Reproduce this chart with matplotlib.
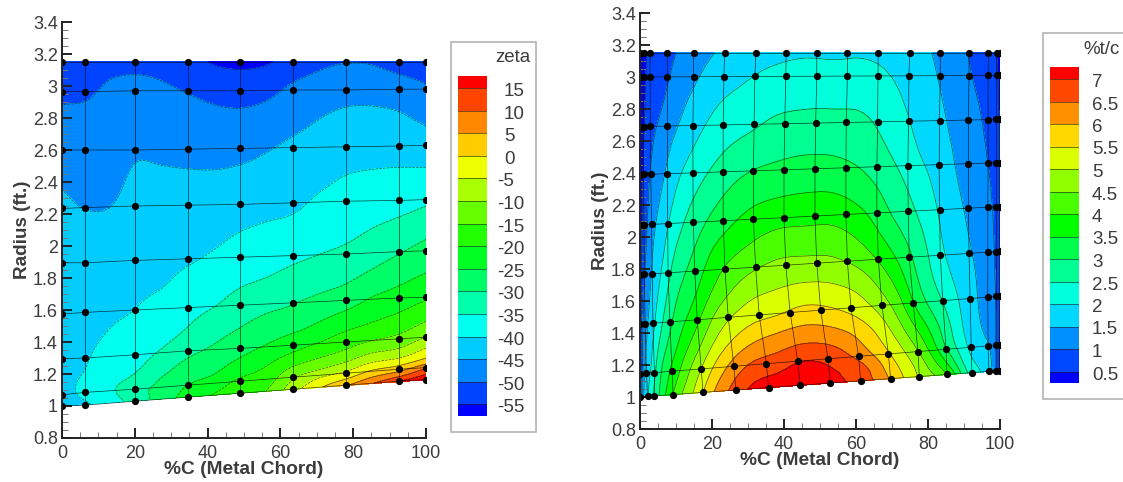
import numpy as np
import matplotlib
matplotlib.use('Agg')
from matplotlib import pyplot as plt
from matplotlib.colors import LinearSegmentedColormap
from matplotlib.patches import Rectangle

plt.rcParams['font.family'] = ['Liberation Sans', 'DejaVu Sans']

W, H = 1123, 482
GREY = '#3c3c3c'

x_ticks = [0, 20, 40, 60, 80, 100]
y_ticks = [0.8, 1, 1.2, 1.4, 1.6, 1.8, 2, 2.2, 2.4, 2.6, 2.8, 3, 3.2, 3.4]
y_tick_labels = ['0.8', '1', '1.2', '1.4', '1.6', '1.8', '2', '2.2', '2.4', '2.6', '2.8', '3', '3.2', '3.4']

# ---- left chart: zeta
zeta_levels = [-55, -50, -45, -40, -35, -30, -25, -20, -15, -10, -5, 0, 5, 10, 15]
zeta_x = [0, 6.3, 13, 20, 27, 34.5, 42, 49, 56, 63.5, 71, 78, 85, 92.7, 100]
zeta_s = [0, .03, .06, .1, .15, .2, .27, .35, .45, .55, .65, .75, .85, .93, 1]
# one list per zeta_x column, bottom edge to top edge
zeta_cols = [
    [-41, -41, -41.5, -41.5, -42, -42, -42.5, -43, -43.5, -44, -45.3, -47, -49.3, -51.5, -53],
    [-40.5, -39.3, -39, -40, -40.7, -41.2, -41.8, -42.5, -43.3, -44.7, -46.3, -47.5, -49.2, -51.2, -53],
    [-37.5, -36, -36, -36.8, -38.4, -39.7, -40.8, -41.8, -43, -44.6, -46.5, -47.5, -48.5, -49.6, -51.5],
    [-33, -32, -34, -35.8, -37.3, -38.5, -40, -41, -42, -43, -44.2, -45.8, -47.7, -49.2, -51],
    [-28, -28.5, -30, -32.5, -35.2, -37, -38.5, -40.6, -42, -43, -44.3, -46, -48, -49.6, -51.5],
    [-23, -24.7, -26.7, -29, -32.2, -34.7, -36.7, -38.8, -41.6, -43, -44.4, -46.5, -48.6, -50.7, -53],
    [-19.5, -22, -24.8, -27, -29.8, -32, -35.2, -37.5, -40.3, -42.3, -44.4, -46.8, -49.4, -52, -55.6],
    [-17, -18.5, -21.3, -24.5, -27.7, -30.1, -33.1, -36.1, -39, -41.6, -44, -46.6, -49.6, -53, -56],
    [-15, -17, -18.9, -21.8, -25.6, -28.2, -31.7, -35.2, -38.1, -41, -43.3, -45.7, -48.9, -52, -55.6],
    [-7, -10, -13.7, -18.7, -23.2, -27.1, -30.5, -33.9, -37.3, -40.4, -42.3, -44.4, -47.2, -49.7, -53],
    [-0.5, -5, -10.9, -16, -21, -24.8, -29, -32.8, -36.3, -38.8, -41.1, -43.3, -45.6, -48.3, -51],
    [4.5, -2.3, -8, -13.8, -18.4, -22.6, -27.6, -31.7, -35.4, -37.7, -40, -42.3, -44.7, -47.3, -50.2],
    [9.5, 2.5, -4, -10.8, -16.8, -20.7, -25.1, -29.8, -34, -36.9, -39.6, -42.1, -44.6, -47.3, -50.4],
    [15, 5.4, -2.3, -9.4, -15.1, -18.9, -23.3, -27.6, -32.3, -36.3, -39.4, -42.3, -45.2, -48.5, -52],
    [19, 11.5, 1.6, -5.1, -11.8, -16.3, -21.3, -25.7, -30.4, -35.2, -39.3, -43.1, -47, -50, -52.5],
]
# measurement points
zeta_node_x = [0, 6.3, 20, 34.5, 49, 63.5, 78, 92.7, 100]
zeta_node_r = [
    [1.00, 1.005, 1.03, 1.055, 1.08, 1.105, 1.13, 1.155, 1.165],
    [1.07, 1.085, 1.105, 1.13, 1.155, 1.18, 1.205, 1.23, 1.24],
    [1.295, 1.30, 1.32, 1.345, 1.36, 1.38, 1.40, 1.42, 1.43],
    [1.575, 1.585, 1.60, 1.615, 1.63, 1.645, 1.66, 1.675, 1.68],
    [1.895, 1.895, 1.91, 1.92, 1.93, 1.94, 1.95, 1.965, 1.97],
    [2.235, 2.24, 2.25, 2.255, 2.26, 2.27, 2.28, 2.285, 2.29],
    [2.60, 2.60, 2.60, 2.605, 2.61, 2.615, 2.62, 2.625, 2.63],
    [2.965, 2.965, 2.97, 2.97, 2.97, 2.975, 2.975, 2.98, 2.98],
    [3.15, 3.15, 3.15, 3.15, 3.15, 3.15, 3.15, 3.15, 3.15],
]

# ---- right chart: %t/c
tc_levels = [0.5, 1, 1.5, 2, 2.5, 3, 3.5, 4, 4.5, 5, 5.5, 6, 6.5, 7]
tc_level_labels = ['0.5', '1', '1.5', '2', '2.5', '3', '3.5', '4', '4.5', '5', '5.5', '6', '6.5', '7']
tc_x = [0, 1, 3, 6, 10, 15, 22, 30, 38, 46, 54, 62, 70, 78, 85, 91, 95, 98, 100]
tc_s = [0, .04, .09, .15, .22, .3, .4, .5, .6, .7, .8, .9, 1]
tc_cols = [
    [.2, .2, .2, .2, .2, .2, .2, .2, .2, .2, .2, .2, .2],
    [1.5, 1.42, 1.3, 1.2, 1.1, .95, .8, .65, .55, .5, .44, .38, .33],
    [2.25, 2.15, 1.97, 1.85, 1.7, 1.55, 1.42, 1.28, 1.13, .97, .85, .75, .65],
    [3.2, 3.1, 2.95, 2.68, 2.42, 2.19, 1.93, 1.72, 1.5, 1.28, 1.07, .88, .7],
    [4.2, 3.95, 3.7, 3.4, 3.15, 2.9, 2.6, 2.28, 2, 1.72, 1.42, 1.2, 1],
    [5.05, 4.85, 4.55, 4.15, 3.75, 3.4, 3.07, 2.75, 2.42, 2.08, 1.78, 1.5, 1.25],
    [6.2, 5.95, 5.6, 5.15, 4.7, 4.2, 3.75, 3.25, 2.85, 2.47, 2.15, 1.85, 1.55],
    [7, 6.75, 6.35, 5.8, 5.25, 4.75, 4.15, 3.65, 3.2, 2.75, 2.35, 2.05, 1.8],
    [7.45, 7, 6.6, 6.1, 5.45, 4.96, 4.4, 3.85, 3.33, 2.9, 2.55, 2.2, 1.9],
    [7.7, 7.3, 6.83, 6.27, 5.66, 5.06, 4.43, 3.89, 3.4, 2.97, 2.6, 2.28, 1.95],
    [7.15, 7, 6.67, 6.15, 5.54, 5, 4.39, 3.88, 3.38, 2.95, 2.6, 2.27, 1.93],
    [6.75, 6.6, 6.13, 5.75, 5.2, 4.72, 4.08, 3.6, 3.15, 2.8, 2.55, 2.25, 1.95],
    [5.9, 5.68, 5.35, 4.95, 4.5, 4, 3.45, 3, 2.72, 2.45, 2.25, 2.05, 1.85],
    [4.9, 4.7, 4.3, 3.8, 3.25, 2.9, 2.67, 2.42, 2.2, 1.96, 1.82, 1.7, 1.6],
    [4.1, 3.5, 2.95, 2.7, 2.42, 2.15, 1.93, 1.82, 1.7, 1.6, 1.5, 1.42, 1.35],
    [2.5, 2.2, 1.97, 1.82, 1.75, 1.68, 1.55, 1.45, 1.35, 1.25, 1.17, 1.08, 1],
    [1.95, 1.8, 1.6, 1.48, 1.42, 1.37, 1.3, 1.22, 1.14, 1.07, .99, .9, .8],
    [1.45, 1.4, 1.35, 1.3, 1.25, 1.15, 1.08, 1, .92, .83, .75, .65, .55],
    [.45, .45, .45, .45, .45, .45, .45, .45, .45, .45, .45, .45, .45],
]
# measurement rows: radius at 0 %C and 100 %C, chord position of each point
tc_row_r0 = [1.0, 1.145, 1.455, 1.765, 2.075, 2.39, 2.69, 3.0, 3.15]
tc_row_r1 = [1.165, 1.325, 1.63, 1.91, 2.19, 2.465, 2.735, 3.01, 3.15]
tc_row_x = [
    [0, 2.1, 4, 9.2, 17.5, 26.6, 35.7, 44.5, 52.9, 61.3, 69.6, 77.6, 85.3, 92.2, 96.9, 98.9, 99.9],
    [0, 1.8, 4, 8.9, 17, 26.1, 35.1, 43.8, 52.2, 60.7, 69, 77.2, 85, 92, 96.7, 98.9, 99.9],
    [0, 1.4, 3.6, 8.3, 15.9, 24.5, 33.1, 41.7, 50.2, 58.6, 67.2, 75.9, 84.1, 91.7, 96.6, 99, 100],
    [0, 1.2, 3.4, 7.8, 15.2, 23.6, 32.1, 40.5, 49.1, 57.6, 66.2, 74.8, 83.4, 91.4, 96.6, 99, 100],
    [0, 1.1, 3.2, 7.7, 14.8, 23.1, 31.5, 40, 48.6, 57.2, 65.8, 74.5, 83.2, 91.2, 96.6, 99, 100],
    [0, 1, 3, 7.6, 14.7, 23.1, 31.5, 40, 48.6, 57.2, 65.8, 74.4, 83.1, 91.2, 96.7, 99, 100],
    [0, 1, 2.9, 7.6, 14.7, 23.1, 31.7, 40.2, 48.8, 57.3, 66, 74.6, 83.2, 91.2, 96.7, 99, 100],
    [0, 1, 2.8, 7.6, 14.9, 23.3, 31.9, 40.5, 49.1, 57.6, 66.1, 74.7, 83.4, 91.4, 96.7, 99.1, 100],
    [0, 1, 2.8, 7.6, 14.9, 23.5, 32.2, 40.6, 49.1, 57.6, 66.2, 74.9, 83.4, 91.4, 96.8, 99.1, 100],
]


def band_colors(n):
    cmap = LinearSegmentedColormap.from_list(
        'tec', ['#0000ff', '#00ffff', '#00ff00', '#ffff00', '#ff0000'])
    return [cmap(i / (n - 1)) for i in range(n)]


def px_axes(x0, y0, x1, y1):
    # pixel box, y counted from the top of the image
    return fig.add_axes([x0 / W, 1 - y1 / H, (x1 - x0) / W, (y1 - y0) / H])


def smooth_axis(a, m=4):
    # Catmull-Rom between the read values, only so the contour lines render round
    a = np.concatenate([2 * a[:1] - a[1:2], a, 2 * a[-1:] - a[-2:-1]])
    out = []
    for i in range(1, a.shape[0] - 2):
        for t in np.arange(m) / m:
            out.append(0.5 * (2 * a[i] + (a[i + 1] - a[i - 1]) * t
                              + (2 * a[i - 1] - 5 * a[i] + 4 * a[i + 1] - a[i + 2]) * t ** 2
                              + (3 * a[i] - a[i - 1] - 3 * a[i + 1] + a[i + 2]) * t ** 3))
    out.append(a[-2])
    return np.array(out)


def smooth_grid(a):
    return smooth_axis(smooth_axis(a).T).T


def contour_panel(box, xs, ss, cols, levels, node_x, node_r):
    ax = px_axes(*box)
    x = np.array(xs, dtype=float)
    s = np.array(ss, dtype=float)
    rb = 1.0 + 0.00165 * x
    X = smooth_grid(np.tile(x, (len(s), 1)))
    R = smooth_grid(np.outer(s, 3.15 - rb) + rb)
    Z = smooth_grid(np.array(cols, dtype=float).T)
    colors = band_colors(len(levels) + 1)
    cf = ax.contourf(X, R, Z, levels=levels, colors=colors, extend='both')
    cf.set_edgecolor('face')
    cf.set_linewidth(0.3)
    ax.contour(X, R, Z, levels=levels, colors='#0c2a20', linewidths=0.5, alpha=0.75)

    node_x = np.array(node_x, dtype=float)
    node_r = np.array(node_r, dtype=float)
    if node_x.ndim == 1:
        node_x = np.tile(node_x, (node_r.shape[0], 1))
    ax.plot(node_x, node_r, color='black', lw=0.5, alpha=0.75)
    ax.plot(node_x.T, node_r.T, color='black', lw=0.5, alpha=0.75)
    ax.plot(node_x.ravel(), node_r.ravel(), 'o', color='black', ms=5.2, mew=0)

    ax.set_xlim(0, 100)
    ax.set_ylim(0.8, 3.4)
    ax.set_xticks(x_ticks)
    ax.set_yticks(y_ticks)
    ax.set_yticklabels(y_tick_labels)
    ax.set_xticks(np.arange(0, 101, 5), minor=True)
    ax.set_yticks(np.arange(0.8, 3.41, 0.05), minor=True)
    ax.tick_params(which='major', direction='in', length=7.5, width=1.4, color='#222222',
                   labelsize=13, labelcolor=GREY, pad=3)
    ax.tick_params(axis='x', which='major', pad=5)
    ax.tick_params(which='minor', direction='in', length=4, width=0.7, color='#777777')
    ax.spines['top'].set_visible(False)
    ax.spines['right'].set_visible(False)
    ax.spines['left'].set_linewidth(1.4)
    ax.spines['bottom'].set_linewidth(1.4)
    ax.spines['left'].set_color('#222222')
    ax.spines['bottom'].set_color('#222222')
    ax.set_xlabel('%C (Metal Chord)', fontsize=13.8, fontweight='bold', color=GREY, labelpad=-1)
    ax.set_ylabel('Radius (ft.)', fontsize=13.6, fontweight='bold', color=GREY, labelpad=1)
    return ax


def legend_panel(box, bar, levels, labels, title, title_xy, first_line, step, pos_x, neg_x):
    fig.add_artist(Rectangle((box[0] / W, 1 - box[3] / H), (box[2] - box[0]) / W,
                             (box[3] - box[1]) / H, transform=fig.transFigure,
                             fc='white', ec='#b4b4b4', lw=1.2, zorder=-1))
    n = len(levels)
    colors = band_colors(n + 1)
    ax = px_axes(bar[0], bar[1], bar[2], bar[3])
    # levels as drawn top down, band between neighbouring lines
    edges_px = [bar[1]] + [first_line + step * i for i in range(n)] + [bar[3]]
    for i in range(n + 1):
        ax.axhspan(edges_px[i], edges_px[i + 1], color=colors[n - i], lw=0)
    for i in range(n):
        ax.axhline(first_line + step * i, color='#202020', lw=0.6, alpha=0.7)
    ax.set_ylim(bar[3], bar[1])
    ax.set_xlim(0, 1)
    ax.axis('off')
    for i, (lev, lab) in enumerate(zip(levels[::-1], labels[::-1])):
        xpos = neg_x if lev < 0 else pos_x
        fig.text(xpos / W, 1 - (first_line + step * i + 3.5) / H, lab, fontsize=13.5, color=GREY,
                 ha='left', va='center')
    fig.text(title_xy[0] / W, 1 - title_xy[1] / H, title, fontsize=13.5, color=GREY,
             ha='left', va='center')


fig = plt.figure(figsize=(W / 100, H / 100), dpi=100, facecolor='white')

contour_panel((62, 22, 426, 438), zeta_x, zeta_s, zeta_cols, zeta_levels,
              zeta_node_x, zeta_node_r)
tc_node_x = np.array(tc_row_x, dtype=float)
tc_node_r = np.array([r0 + (r1 - r0) * np.array(row) / 100
                      for r0, r1, row in zip(tc_row_r0, tc_row_r1, tc_row_x)])
contour_panel((640, 13, 1000, 429), tc_x, tc_s, tc_cols, tc_levels, tc_node_x, tc_node_r)

legend_panel((451, 42, 536, 432), (458, 76, 487, 416), zeta_levels,
             [str(v) for v in zeta_levels], 'zeta', (495, 58), 88, 22.6, 504, 497)
legend_panel((1043, 33, 1135, 399), (1050, 67, 1079, 383), tc_levels, tc_level_labels,
             '%t/c', (1083, 49), 79, 22.5, 1092, 1092)

fig.savefig('out.png', dpi=100)
